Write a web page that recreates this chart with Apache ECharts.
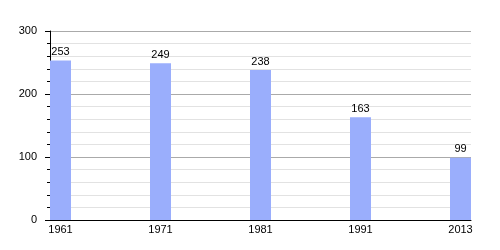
<!DOCTYPE html>
<html><head><meta charset="utf-8">
<script src="https://cdn.jsdelivr.net/npm/echarts@6/dist/echarts.min.js"></script>
<style>html,body{margin:0;padding:0;background:#fff}#c{width:500px;height:250px}</style>
</head><body><div id="c"></div>
<script>
const categories = ['1961', '1971', '1981', '1991', '2013'];
const values = [253, 249, 238, 163, 99];
const yTicks = [0, 100, 200, 300];

const chart = echarts.init(document.getElementById('c'), null, {renderer: 'canvas'});
const font = 'Liberation Sans, Arial, sans-serif';
chart.setOption({
  animation: false,
  grid: {left: 50, right: 29, top: 31, bottom: 30},
  xAxis: {
    type: 'value', min: -0.105, max: 4.105,
    axisLine: {show: true, onZero: false, lineStyle: {color: '#000', width: 1}},
    axisTick: {show: false},
    splitLine: {show: false},
    axisLabel: {
      color: '#000', fontFamily: font, fontSize: 11, margin: 4,
      customValues: categories.map((c, i) => i),
      formatter: v => categories[Math.round(v)] || ''
    }
  },
  yAxis: {
    type: 'value', min: yTicks[0], max: yTicks[yTicks.length - 1], interval: 100,
    axisLine: {show: true, onZero: false, lineStyle: {color: '#000', width: 1}},
    axisTick: {show: true, length: 5, lineStyle: {color: '#000'}},
    minorTick: {show: true, splitNumber: 5, length: 3, lineStyle: {color: '#000'}},
    splitLine: {show: true, lineStyle: {color: '#aaaaaa', width: 1}},
    minorSplitLine: {show: true, lineStyle: {color: '#e2e2e2', width: 1}},
    axisLabel: {color: '#000', fontFamily: font, fontSize: 11, margin: 13}
  },
  series: [{
    type: 'bar',
    data: values.map((v, i) => [i, v]),
    barWidth: 21,
    itemStyle: {color: '#9aaefc'},
    label: {show: true, position: 'top', distance: 3, color: '#000', fontFamily: font, fontSize: 11,
      formatter: p => p.value[1]}
  }]
});
</script></body></html>
